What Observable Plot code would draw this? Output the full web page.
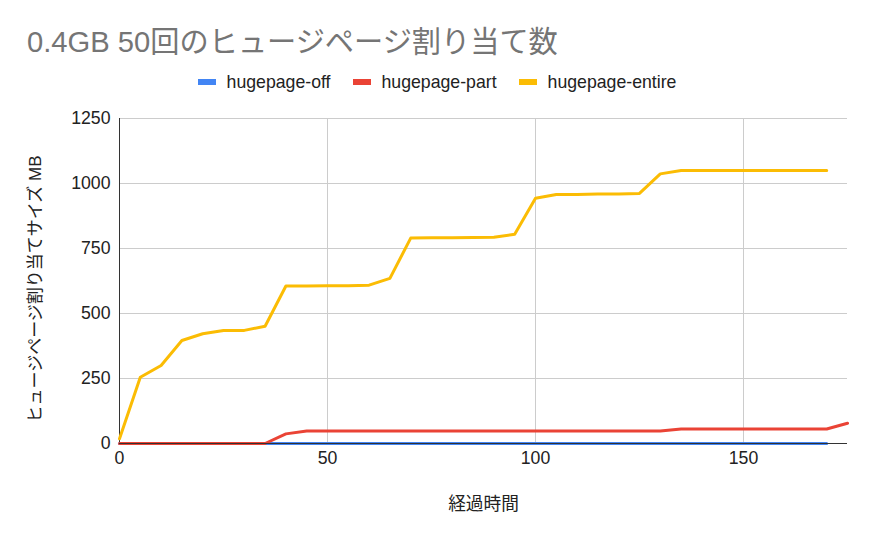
<!DOCTYPE html>
<html>
<head>
<meta charset="utf-8">
<script src="https://cdn.jsdelivr.net/npm/d3@7"></script>
<script src="https://cdn.jsdelivr.net/npm/@observablehq/plot@0.6"></script>
<style>
  body { margin: 0; background: #fff; font-family: "Liberation Sans", Arial, "Noto Sans CJK JP", sans-serif; }
  #wrap { position: relative; width: 874px; height: 540px; overflow: hidden; }
  #title { position: absolute; left: 27px; top: 22px; font-size: 29.2px; line-height: 40px; color: #757575; white-space: nowrap; }
  #legend { position: absolute; left: 0; width: 874px; top: 71px; height: 22px; display: flex; justify-content: center; align-items: center; font-size: 17.7px; color: #222; }
  .item { display: flex; align-items: center; margin: 0 11px; }
  .sw { width: 18px; height: 6px; margin-right: 11px; }
  #chart { position: absolute; left: 0; top: 100px; }
</style>
</head>
<body>
<div id="wrap">
  <div id="title">0.4GB 50回のヒュージページ割り当て数</div>
  <div id="legend"></div>
  <div id="chart"></div>
</div>
<script>
const seriesNames = ["hugepage-off", "hugepage-part", "hugepage-entire"];
const seriesColors = ["#4285F4", "#EA4335", "#FBBC04"];
const xValues = [0,5,10,15,20,25,30,35,40,45,50,55,60,65,70,75,80,85,90,95,100,105,110,115,120,125,130,135,140,145,150,155,160,165,170,175];
const offValues = [0,0,0,0,0,0,0,0,0,0,0,0,0,0,0,0,0,0,0,0,0,0,0,0,0,0,0,0,0,0,0,0,0,0,0,null];
const partValues = [0,0,0,0,0,0,0,0,37,48,48,48,48,48,48,48,48,48,48,48,48,48,48,48,48,48,48,56,56,56,56,56,56,56,56,78];
const entireValues = [18,255,300,396,422,435,435,451,606,606,607,607,609,635,790,791,791,792,793,805,943,958,958,960,960,962,1037,1050,1050,1050,1050,1050,1050,1050,1050,null];
const xTicks = [0, 50, 100, 150];
const yTicks = [0, 250, 500, 750, 1000, 1250];

const allSeries = [offValues, partValues, entireValues];
const data = [];
allSeries.forEach((vals, si) => {
  vals.forEach((v, i) => {
    if (v !== null) data.push({series: seriesNames[si], x: xValues[i], y: v});
  });
});

// legend
const legend = document.getElementById("legend");
seriesNames.forEach((n, i) => {
  const it = document.createElement("div");
  it.className = "item";
  const sw = document.createElement("div");
  sw.className = "sw";
  sw.style.background = seriesColors[i];
  const t = document.createElement("span");
  t.textContent = n;
  it.appendChild(sw); it.appendChild(t);
  legend.appendChild(it);
});

const plot = Plot.plot({
  width: 874,
  height: 440,
  marginTop: 18,
  marginBottom: 97,
  marginLeft: 119,
  marginRight: 27,
  style: { fontFamily: '"Liberation Sans", Arial, "Noto Sans CJK JP", sans-serif', fontSize: "17.7px", color: "#222", background: "#fff" },
  x: { domain: [0, 175], ticks: xTicks, label: null },
  y: { domain: [0, 1250], ticks: yTicks, label: null },
  color: { domain: seriesNames, range: seriesColors },
  marks: [
    Plot.gridX(xTicks.filter(d => d > 0), { stroke: "#cccccc", strokeOpacity: 1, strokeWidth: 1 }),
    Plot.gridY(yTicks.filter(d => d > 0), { stroke: "#cccccc", strokeOpacity: 1, strokeWidth: 1 }),
    Plot.axisX(xTicks, { tickSize: 0, tickPadding: 8, fontSize: 17.7, fill: "#222", label: null, tickFormat: d3.format("d") }),
    Plot.axisY(yTicks, { tickSize: 0, tickPadding: 9, fontSize: 17.7, fill: "#222", label: null, tickFormat: d3.format("d") }),
    Plot.ruleX([0], { stroke: "#333", strokeWidth: 1 }),
    Plot.lineY(data, { x: "x", y: "y", z: "series", stroke: "series", strokeWidth: 3, curve: "linear" }),
    Plot.ruleY([0], { stroke: "#333", strokeWidth: 1 }),
    Plot.text(["経過時間"], { frameAnchor: "bottom", dy: 66, fontSize: 17.7, fill: "#222" }),
    Plot.text(["ヒュージページ割り当てサイズ MB"], { frameAnchor: "left", textAnchor: "middle", dx: -84, dy: 8, rotate: -90, fontSize: 17, fill: "#222" })
  ]
});
document.getElementById("chart").appendChild(plot);
</script>
</body>
</html>
